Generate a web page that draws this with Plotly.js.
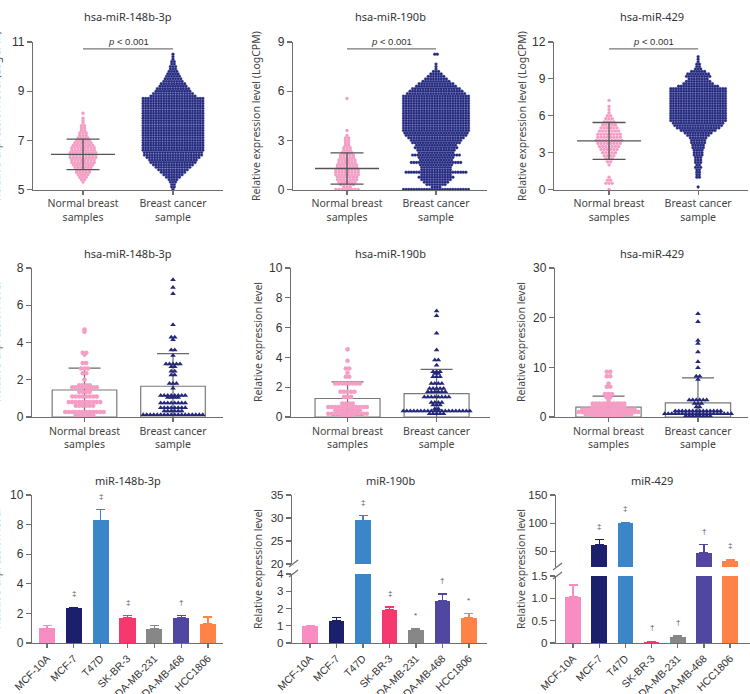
<!DOCTYPE html>
<html><head><meta charset="utf-8">
<script src="https://cdn.plot.ly/plotly-3.0.1.min.js"></script>
<style>body{margin:0;background:#fff}#chart{width:750px;height:694px}</style>
</head><body><div id="chart"></div>
<script>
// ================= DATA =================
const groupLabels = ['Normal breast<br>samples', 'Breast cancer<br>sample'];
const tcgaTitles = ['hsa-miR-148b-3p', 'hsa-miR-190b', 'hsa-miR-429'];
const cohortTitles = ['hsa-miR-148b-3p', 'hsa-miR-190b', 'hsa-miR-429'];
const cellTitles = ['miR-148b-3p', 'miR-190b', 'miR-429'];

// Row 1: TCGA LogCPM, beeswarm rows (level -> number of samples in that row)
const tcga148NormalLevels = [5.3,5.4,5.5,5.6,5.7,5.8,5.9,6.0,6.1,6.2,6.3,6.4,6.5,6.6,6.7,6.8,6.9,7.0,7.1,7.2,7.3,7.4,7.5,7.6,7.7,7.8,7.9,8.0,8.1];
const tcga148NormalCounts = [1,2,3,4,5,5,6,7,8,8,9,9,9,8,8,7,6,5,4,3,3,2,2,2,1,1,1,0,1];
const tcga148CancerLevels = [5.0,5.1,5.2,5.3,5.4,5.5,5.6,5.7,5.8,5.9,6.0,6.1,6.2,6.3,6.4,
  6.5,6.6,6.7,6.8,6.9,7.0,7.1,7.2,7.3,7.4,7.5,7.6,7.7,7.8,7.9,8.0,8.1,8.2,8.3,8.4,8.5,8.6,8.7,
  8.8,8.9,9.0,9.1,9.2,9.3,9.4,9.5,9.6,9.7,9.8,9.9,10.0,10.1,10.2,10.3,10.4,10.5];
const tcga148CancerCounts = [1,2,2,3,4,6,8,10,12,14,16,18,19,21,23,
  23,24,24,24,24,24,24,24,24,24,24,24,24,24,24,24,24,24,24,24,24,24,24,
  18,16,14,13,11,10,8,7,6,5,4,3,3,2,2,1,1,1];

const tcga190NormalLevels = [0,0.15,0.3,0.45,0.6,0.75,0.9,1.05,1.2,1.35,1.5,1.65,1.8,1.95,2.1,2.25,2.4,2.55,2.7,2.85,3.0,3.15,3.3,3.6,5.55];
const tcga190NormalCounts = [8,3,5,6,7,7,8,8,8,7,7,6,6,5,5,4,3,3,2,2,2,2,1,1,1];
const tcga190CancerLevels = [0,0.15,0.3,0.45,0.6,0.75,0.9,1.05,1.2,1.35,1.5,1.65,1.8,1.95,2.1,2.25,2.4,2.55,2.7,2.85,3.0,3.15,3.3,3.45,
  3.6,3.75,3.9,4.05,4.2,4.35,4.5,4.65,4.8,4.95,5.1,5.25,5.4,5.55,5.7,
  5.85,6.0,6.15,6.3,6.45,6.6,6.75,6.9,7.05,7.2,7.35,7.5,7.65,8.25];
const tcga190CancerCounts = [26,4,8,10,12,14,12,24,12,12,13,20,13,14,19,14,15,17,16,19,20,22,24,25,
  26,26,26,26,26,26,26,26,26,26,26,26,26,26,26,
  23,21,19,16,14,11,9,7,5,3,1,1,1,2];

const tcga429NormalLevels = [0,0.5,0.75,1.0,2.0,2.25,2.5,2.75,3.0,3.25,3.5,3.75,4.0,4.25,4.5,4.75,5.0,5.25,5.5,5.75,6.0,6.25,6.5,6.75,7.25];
const tcga429NormalCounts = [1,3,2,1,1,2,3,4,5,6,7,8,9,8,8,7,6,5,4,3,2,1,1,1,1];
const tcga429CancerLevels = [0.2,1.0,1.2,1.4,1.6,1.8,2.0,2.2,2.4,2.6,2.8,3.0,3.2,3.4,3.6,3.8,4.0,4.2,4.4,4.6,4.8,5.0,5.2,5.4,
  5.6,5.8,6.0,6.2,6.4,6.6,6.8,7.0,7.2,7.4,7.6,7.8,8.0,8.2,
  8.4,8.6,8.8,9.0,9.2,9.4,9.6,9.8,10.0,10.2,10.4,10.6,10.8];
const tcga429CancerCounts = [1,2,2,2,2,3,2,3,3,3,4,4,4,5,5,6,6,7,9,11,14,17,19,20,
  22,22,22,22,22,22,22,22,22,22,22,22,22,22,
  16,12,10,8,10,9,6,3,2,2,1,1,1];

// Row 1 normal-group mean and SD (LogCPM)
const tcgaNormalMean = [6.43, 1.28, 3.95];
const tcgaNormalSD = [0.62, 0.95, 1.50];

// Row 2: cohort relative expression, swarm rows (value -> count)
const coh148NormalLevels = [4.7,4.58,3.45,3.35,2.9,2.6,2.35,2.0,1.7,1.6,1.35,1.1,0.8,0.6,0.27,0.1];
const coh148NormalCounts = [1,1,2,1,2,3,2,1,4,8,4,8,10,6,12,6];
const coh148CancerLevels = [7.37,6.95,6.62,4.95,4.28,4.15,3.6,3.3,2.85,2.7,2.45,2.25,1.8,1.55,1.15,1.05,0.75,0.5,0.32,0.12];
const coh148CancerCounts = [1,1,1,1,2,1,2,1,5,2,2,2,3,1,8,4,8,8,6,18];
const coh190NormalLevels = [4.54,3.78,3.26,2.97,2.7,2.25,1.69,1.35,0.9,0.67,0.45,0.22,0.07];
const coh190NormalCounts = [1,1,2,1,2,8,5,3,4,12,8,12,4];
const coh190CancerLevels = [7.12,6.79,5.62,4.49,3.82,3.48,3.03,2.92,2.7,2.25,1.91,1.69,1.35,0.97,0.8,0.56,0.4,0.22];
const coh190CancerCounts = [1,1,1,1,2,1,3,2,3,4,5,6,8,4,3,2,20,5];
const coh429NormalLevels = [9.1,8.2,6.75,6.1,4.6,4.0,3.4,2.7,2.15,1.5,1.0,0.55,0.2];
const coh429NormalCounts = [2,2,1,2,3,2,1,10,10,16,18,14,8];
const coh429CancerLevels = [20.8,19.2,15.4,14.8,13.1,11.1,9.9,8.2,7.55,3.4,2.7,2.0,1.2,0.67,0.2];
const coh429CancerCounts = [1,1,1,1,1,1,1,2,1,6,3,2,14,20,8];
// Row 2 bar means and SD [normal, cancer]
const coh148Mean = [1.45, 1.65], coh148SD = [1.17, 1.75];
const coh190Mean = [1.24, 1.57], coh190SD = [1.12, 1.62];
const coh429Mean = [2.0, 2.83],  coh429SD = [2.2, 5.06];

// Row 3: cell lines
const cellLines = ['MCF-10A','MCF-7','T47D','SK-BR-3','MDA-MB-231','MDA-MB-468','HCC1806'];
const cellColors = ['#f98cc0','#1c1f6b','#3a86c8','#f5386e','#878787','#5048a0','#ff8349'];
const cell148Mean = [1.0, 2.35, 8.3, 1.7, 0.95, 1.68, 1.3];
const cell148Err  = [0.2, 0.07, 0.7, 0.15, 0.25, 0.17, 0.45];
const cell148Sig  = ['', '‡', '‡', '‡', '', '†', ''];
const cell190Mean = [0.98, 1.27, 29.5, 1.92, 0.74, 2.44, 1.47];
const cell190Err  = [0.05, 0.2, 1.0, 0.17, 0.08, 0.4, 0.23];
const cell190Sig  = ['', '', '‡', '‡', '*', '†', '*'];
const cell429Mean = [1.03, 61.4, 100.3, 0.02, 0.13, 47.6, 33.2];
const cell429Err  = [0.27, 9.0, 1.2, 0.015, 0.025, 14.4, 2.4];
const cell429Sig  = ['', '‡', '‡', '†', '†', '†', '‡'];

// ================= LAYOUT HELPERS =================
const W = 750, H = 694;
const dX = (a, b) => [a / W, b / W];
const dY = (top, bottom) => [1 - bottom / H, 1 - top / H];
const NAVY = '#23277a', PINK = '#f59ec5', AX = '#6e6e6e', GRAYLINE = '#555';
const tickFont = {family: 'Liberation Sans, Arial, sans-serif', size: 12, color: '#333'};
const brokenTickFont = {family: 'Liberation Sans, Arial, sans-serif', size: 11.5, color: '#333'};
const catFont = {family: 'Noto Sans, sans-serif', size: 10.5, color: '#444'};
const cellFont = {family: 'Liberation Sans, Arial, sans-serif', size: 10.5, color: '#333'};
const titleFont = {family: 'Noto Sans, sans-serif', size: 11, color: '#333'};
const ytFont = {family: 'Noto Sans, sans-serif', size: 10.5, color: '#444'};

function yax(domain, range, tickvals, ticktext, anchor, font) {
  return {domain, range, tickvals, ticktext, anchor, tickmode: 'array', showline: true, linecolor: AX, linewidth: 1.2,
    ticks: 'outside', ticklen: 5, tickwidth: 1.2, tickcolor: AX, showgrid: false, zeroline: false, tickfont: font || tickFont};
}
function xax(domain, range, tickvals, ticktext, anchor, font, angle) {
  return {domain, range, tickvals, ticktext, anchor, tickmode: 'array', showline: true, linecolor: AX, linewidth: 1.2,
    ticks: 'outside', ticklen: 4, tickwidth: 1.2, tickcolor: AX, showgrid: false, zeroline: false,
    tickfont: font, tickangle: angle || 0};
}
function swarm(center, levels, counts, spacing) {
  const x = [], y = [];
  levels.forEach((v, i) => {
    const n = counts[i];
    for (let j = 0; j < n; j++) { x.push(center + (j - (n - 1) / 2) * spacing); y.push(v); }
  });
  return {x, y};
}

const traces = [];
const annotations = [];
const shapes = [];
const layout = {width: W, height: H, margin: {l: 0, r: 0, t: 0, b: 0}, showlegend: false,
  paper_bgcolor: '#fff', plot_bgcolor: 'rgba(0,0,0,0)', hovermode: false};

function title(text, cx, cy) {
  annotations.push({text, x: cx / W, y: 1 - cy / H, xref: 'paper', yref: 'paper', showarrow: false,
    xanchor: 'center', yanchor: 'middle', font: titleFont});
}
function ytitle(text, cx, cy) {
  annotations.push({text, x: cx / W, y: 1 - cy / H, xref: 'paper', yref: 'paper', showarrow: false,
    textangle: -90, xanchor: 'center', yanchor: 'middle', font: ytFont});
}

// ================= ROW 1 =================
const r1 = [
  {xd: [33, 223], xr: [-0.556, 1.556], yr: [5, 11], tv: [5, 7, 9, 11], sp: 90,
   nL: tcga148NormalLevels, nC: tcga148NormalCounts, cL: tcga148CancerLevels, cC: tcga148CancerCounts},
  {xd: [293, 487], xr: [-0.607, 1.573], yr: [0, 9], tv: [0, 3, 6, 9], sp: 89,
   nL: tcga190NormalLevels, nC: tcga190NormalCounts, cL: tcga190CancerLevels, cC: tcga190CancerCounts},
  {xd: [554, 748], xr: [-0.618, 1.56], yr: [0, 12], tv: [0, 3, 6, 9, 12], sp: 89,
   nL: tcga429NormalLevels, nC: tcga429NormalCounts, cL: tcga429CancerLevels, cC: tcga429CancerCounts}
];
r1.forEach((p, i) => {
  const n = i + 1, xa = 'x' + n, ya = 'y' + n;
  layout['xaxis' + n] = xax(dX(p.xd[0], p.xd[1]), p.xr, [0, 1], groupLabels, ya, catFont);
  layout['yaxis' + n] = yax(dY(42, 189.5), p.yr, p.tv, p.tv.map(String), xa);
  const sN = swarm(0, p.nL, p.nC, 3.2 / p.sp);
  const sC = swarm(1, p.cL, p.cC, 2.6 / p.sp);
  traces.push({type: 'scatter', mode: 'markers', x: sN.x, y: sN.y, xaxis: xa, yaxis: ya, cliponaxis: false,
    marker: {size: 3.4, color: PINK, line: {width: 0}}});
  traces.push({type: 'scatter', mode: 'markers', x: sC.x, y: sC.y, xaxis: xa, yaxis: ya, cliponaxis: false,
    marker: {size: 2.9, color: NAVY, line: {width: 0.3, color: '#5a5fae'}}});
  const m = tcgaNormalMean[i], s = tcgaNormalSD[i], hw = 32 / p.sp, cw = 16.5 / p.sp;
  traces.push({type: 'scatter', mode: 'lines', xaxis: xa, yaxis: ya, line: {color: GRAYLINE, width: 1.3},
    x: [-hw, hw, null, -cw, cw, null, -cw, cw, null, 0, 0],
    y: [m, m, null, m + s, m + s, null, m - s, m - s, null, m - s, m + s]});
  shapes.push({type: 'line', xref: xa, yref: ya + ' domain', x0: 0, x1: 1, y0: 0.953, y1: 0.953,
    line: {color: '#777', width: 1.2}});
  annotations.push({text: '<i>p</i> &lt; 0.001', xref: xa, yref: ya + ' domain', x: 0.5, y: 1.0,
    showarrow: false, xanchor: 'center', yanchor: 'middle',
    font: {family: 'Liberation Sans, Arial, sans-serif', size: 9.5, color: '#333'}});
});
title(tcgaTitles[0], 128, 17); title(tcgaTitles[1], 390, 17); title(tcgaTitles[2], 652, 17);
ytitle('Relative expression level (LogCPM)', -4, 116);
ytitle('Relative expression level (LogCPM)', 256, 116);
ytitle('Relative expression level (LogCPM)', 522, 116);

// ================= ROW 2 =================
const r2 = [
  {xd: [32, 223], xr: [-0.593, 1.565], yr: [0, 8], tv: [0, 2, 4, 6, 8], sp: 88.5,
   nL: coh148NormalLevels, nC: coh148NormalCounts, cL: coh148CancerLevels, cC: coh148CancerCounts, mean: coh148Mean, sd: coh148SD},
  {xd: [291, 490], xr: [-0.635, 1.6], yr: [0, 10], tv: [0, 2, 4, 6, 8, 10], sp: 89,
   nL: coh190NormalLevels, nC: coh190NormalCounts, cL: coh190CancerLevels, cC: coh190CancerCounts, mean: coh190Mean, sd: coh190SD},
  {xd: [555, 748], xr: [-0.598, 1.559], yr: [0, 30], tv: [0, 10, 20, 30], sp: 89.5,
   nL: coh429NormalLevels, nC: coh429NormalCounts, cL: coh429CancerLevels, cC: coh429CancerCounts, mean: coh429Mean, sd: coh429SD}
];
r2.forEach((p, i) => {
  const n = i + 4, xa = 'x' + n, ya = 'y' + n;
  layout['xaxis' + n] = xax(dX(p.xd[0], p.xd[1]), p.xr, [0, 1], groupLabels, ya, catFont);
  layout['yaxis' + n] = yax(dY(268, 417), p.yr, p.tv, p.tv.map(String), xa);
  traces.push({type: 'bar', x: [0, 1], y: p.mean, xaxis: xa, yaxis: ya, width: 0.73,
    marker: {color: 'rgba(255,255,255,1)', line: {color: '#7a7a7a', width: 1.2}},
    error_y: {type: 'data', array: p.sd, visible: true, color: '#6a6a6a', thickness: 1.2, width: 16}});
  const sN = swarm(0, p.nL, p.nC, 3.5 / p.sp);
  const sC = swarm(1, p.cL, p.cC, 3.5 / p.sp);
  traces.push({type: 'scatter', mode: 'markers', x: sN.x, y: sN.y, xaxis: xa, yaxis: ya, cliponaxis: false,
    marker: {size: 4.6, color: PINK, symbol: 'circle', line: {width: 0}}});
  traces.push({type: 'scatter', mode: 'markers', x: sC.x, y: sC.y, xaxis: xa, yaxis: ya, cliponaxis: false,
    marker: {size: 5, color: NAVY, symbol: 'triangle-up', line: {width: 0}}});
});
title(cohortTitles[0], 128, 253); title(cohortTitles[1], 390, 253); title(cohortTitles[2], 652, 253);
ytitle('Relative expression level', -4, 342);
ytitle('Relative expression level', 258, 342);
ytitle('Relative expression level', 521, 342);

// ================= ROW 3 =================
const cx = [0, 1, 2, 3, 4, 5, 6];
function cellBars(xa, ya, means, errs, maxVisible) {
  means.forEach((v, k) => {
    const showErr = maxVisible === undefined || (v + errs[k] <= maxVisible);
    traces.push({type: 'bar', x: [cx[k]], y: [v], xaxis: xa, yaxis: ya, width: 0.6,
      marker: {color: cellColors[k], line: {width: 0}},
      error_y: {type: 'data', symmetric: false, array: [errs[k]], arrayminus: [0], visible: showErr,
        color: cellColors[k], thickness: 1.3, width: 4.5}});
  });
}
function sigs(xa, yaLow, yaHigh, lowMax, means, errs, marks) {
  marks.forEach((t, k) => {
    if (!t) return;
    const top = means[k] + errs[k];
    const ya = (yaHigh && top > lowMax) ? yaHigh : yaLow;
    annotations.push({text: t, xref: xa, yref: ya, x: cx[k], y: top, yshift: 7, showarrow: false,
      xanchor: 'center', yanchor: 'bottom', font: {family: 'Liberation Sans, sans-serif', size: 8, color: '#555'}});
  });
}
// panel 7
layout.xaxis7 = xax(dX(32, 223), [-0.56, 6.56], cx, cellLines, 'y7', cellFont, -45);
layout.yaxis7 = yax(dY(495, 643), [0, 10], [0, 2, 4, 6, 8, 10], ['0','2','4','6','8','10'], 'x7');
cellBars('x7', 'y7', cell148Mean, cell148Err);
sigs('x7', 'y7', null, 10, cell148Mean, cell148Err, cell148Sig);
// panel 8 (broken axis)
layout.xaxis8 = xax(dX(292, 487), [-0.68, 6.68], cx, cellLines, 'y8', cellFont, -45);
layout.yaxis8 = yax(dY(574, 643), [0, 4], [0, 1, 2, 3, 4], ['0','1','2','3','4'], 'x8', brokenTickFont);
layout.yaxis9 = yax(dY(495, 564), [20, 35], [20, 25, 30, 35], ['20','25','30','35'], 'x8', brokenTickFont);
cellBars('x8', 'y8', cell190Mean, cell190Err, 4);
cellBars('x8', 'y9', cell190Mean, cell190Err);
sigs('x8', 'y8', 'y9', 4, cell190Mean, cell190Err, cell190Sig);
// panel 9 (broken axis)
layout.xaxis10 = xax(dX(556, 750), [-0.65, 6.76], cx, cellLines, 'y10', cellFont, -45);
layout.yaxis10 = yax(dY(576, 643), [0, 1.5], [0, 0.5, 1.0, 1.5], ['0','0.5','1.0','1.5'], 'x10', brokenTickFont);
layout.yaxis11 = yax(dY(495, 567), [22, 150], [50, 100, 150], ['50','100','150'], 'x10', brokenTickFont);
cellBars('x10', 'y10', cell429Mean, cell429Err, 1.5);
cellBars('x10', 'y11', cell429Mean, cell429Err);
sigs('x10', 'y10', 'y11', 1.5, cell429Mean, cell429Err, cell429Sig);

title(cellTitles[0], 128, 480); title(cellTitles[1], 390, 480); title(cellTitles[2], 652, 480);
ytitle('Relative expression level', -4, 569);
ytitle('Relative expression level', 258, 569);
ytitle('Relative expression level', 521, 569);

// axis-break marks
[[292, 564], [292, 574], [556, 567], [556, 576]].forEach(([bx, by]) => {
  shapes.push({type: 'line', xref: 'paper', yref: 'paper', x0: (bx - 3) / W, y0: 1 - (by + 3) / H,
    x1: (bx + 6) / W, y1: 1 - (by - 4) / H, line: {color: AX, width: 1.2}});
});

layout.annotations = annotations;
layout.shapes = shapes;
layout.bargap = 0;
Plotly.newPlot('chart', traces, layout, {staticPlot: true, displayModeBar: false});
</script>
</body></html>
